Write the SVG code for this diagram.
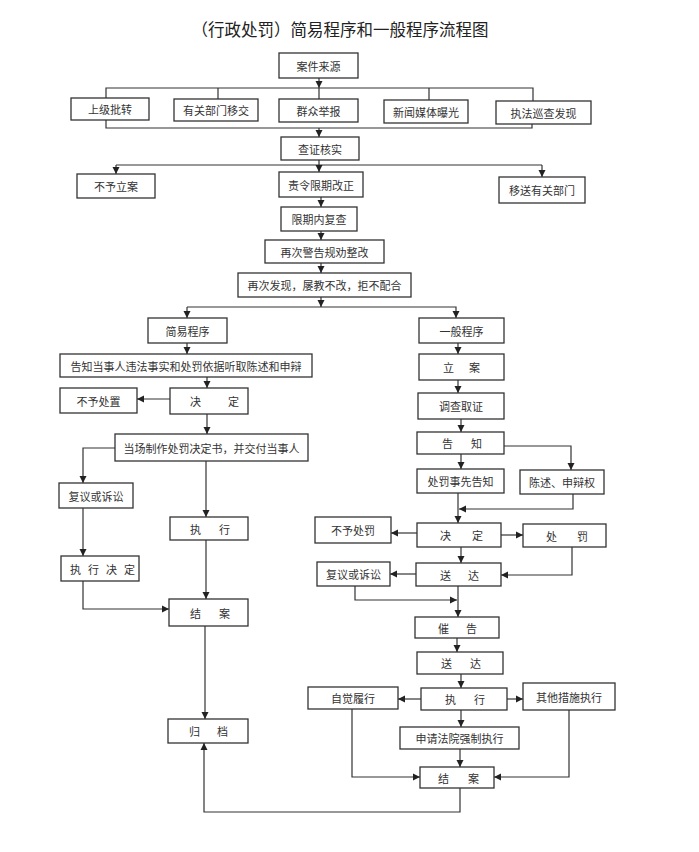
<svg xmlns="http://www.w3.org/2000/svg" width="699" height="852" viewBox="0 0 699 852">
<style>
.b{fill:#fff;stroke:#333;stroke-width:1.3}
.t{font-family:"Noto Sans CJK SC","Noto Sans",sans-serif;font-size:11px;fill:#333;text-anchor:middle;dominant-baseline:central}
.s{font-family:"Noto Sans CJK SC","Noto Sans",sans-serif;font-size:11px;fill:#333;dominant-baseline:central}
.ti{font-family:"Noto Sans CJK SC","Noto Sans",sans-serif;font-size:16.5px;fill:#222;text-anchor:middle}
.c path{fill:none;stroke:#333;stroke-width:1.2}
.a{marker-end:url(#ah)}
</style>
<defs>
<marker id="ah" markerUnits="userSpaceOnUse" markerWidth="8" markerHeight="8" refX="7" refY="4" orient="auto">
<path d="M0,0.5 L7,4 L0,7.5 Z" fill="#222"/>
</marker>
</defs>
<rect width="699" height="852" fill="#fff"/>
<text class="ti" x="340" y="36">（行政处罚）简易程序和一般程序流程图</text>

<g class="c">
<path class="a" d="M319,78 V88"/>
<path d="M106,98 V88 H533 V101 M218,88 V99 M319,88 V99 M429,88 V100"/>
<path d="M106,120 V128 H532 V124"/>
<path class="a" d="M319,128 V137"/>
<path d="M319,160 V165 M116,165 H542"/>
<path class="a" d="M116,165 V174"/>
<path class="a" d="M319,165 V172"/>
<path class="a" d="M542,165 V177"/>
<path class="a" d="M321,197 V207"/>
<path class="a" d="M321,231 V240"/>
<path class="a" d="M321,263 V273"/>
<path class="a" d="M321,297 V307"/>
<path class="a" d="M187,307 V318"/>
<path class="a" d="M187,307 H456 V318"/>
<path class="a" d="M187,343 V354"/>
<path class="a" d="M207,377 V388"/>
<path class="a" d="M170,399 H137"/>
<path class="a" d="M207,414 V434"/>
<path class="a" d="M115,448 H83 V483"/>
<path class="a" d="M206,461 V517"/>
<path class="a" d="M83,508 V556"/>
<path class="a" d="M83,581 V609 H169"/>
<path class="a" d="M206,540 V599"/>
<path class="a" d="M205,626 V719"/>
<path class="a" d="M460,788 V812 H204 V743"/>
<path class="a" d="M458,343 V354"/>
<path class="a" d="M458,380 V393"/>
<path class="a" d="M461,419 V432"/>
<path class="a" d="M504,446 H571 V470"/>
<path class="a" d="M461,454 V469"/>
<path class="a" d="M458,493 V523"/>
<path class="a" d="M573,494 V509 H459"/>
<path class="a" d="M417,533 H391"/>
<path class="a" d="M501,535 H523"/>
<path class="a" d="M461,547 V563"/>
<path class="a" d="M572,547 V575 H501"/>
<path class="a" d="M416,574 H390"/>
<path class="a" d="M355,586 V600 H457"/>
<path class="a" d="M458,586 V617"/>
<path class="a" d="M457,638 V652"/>
<path class="a" d="M461,674 V688"/>
<path class="a" d="M421,699 H398"/>
<path class="a" d="M507,699 H523"/>
<path class="a" d="M461,710 V727"/>
<path class="a" d="M460,749 V767"/>
<path class="a" d="M352,709 V777 H420"/>
<path class="a" d="M569,710 V777 H494"/>
</g>

<g id="n1"><rect class="b" x="279" y="53" width="79" height="25"/><text class="t" x="318.5" y="65.5">案件来源</text></g>
<g id="n2"><rect class="b" x="71" y="98" width="78" height="22"/><text class="t" x="110" y="109">上级批转</text></g>
<g id="n3"><rect class="b" x="174" y="99" width="84" height="22"/><text class="t" x="216" y="110">有关部门移交</text></g>
<g id="n4"><rect class="b" x="279" y="99" width="79" height="23"/><text class="t" x="318.5" y="110.5">群众举报</text></g>
<g id="n5"><rect class="b" x="384" y="100" width="84" height="23"/><text class="t" x="426" y="111.5">新闻媒体曝光</text></g>
<g id="n6"><rect class="b" x="496" y="101" width="95" height="23"/><text class="t" x="543.5" y="113">执法巡查发现</text></g>
<g id="n7"><rect class="b" x="281" y="137" width="78" height="23"/><text class="t" x="320" y="148.5">查证核实</text></g>
<g id="n8"><rect class="b" x="77" y="174" width="78" height="24"/><text class="t" x="116" y="186">不予立案</text></g>
<g id="n9"><rect class="b" x="279" y="172" width="84" height="25"/><text class="t" x="321" y="184.5">责令限期改正</text></g>
<g id="n10"><rect class="b" x="499" y="177" width="86" height="26"/><text class="t" x="542" y="190">移送有关部门</text></g>
<g id="n11"><rect class="b" x="281" y="207" width="76" height="24"/><text class="t" x="319" y="219">限期内复查</text></g>
<g id="n12"><rect class="b" x="265" y="240" width="119" height="23"/><text class="t" x="324.5" y="251.5">再次警告规劝整改</text></g>
<g id="n13"><rect class="b" x="238" y="273" width="173" height="24"/><text class="t" x="324.5" y="285">再次发现，屡教不改，拒不配合</text></g>
<g id="n14"><rect class="b" x="148" y="318" width="79" height="25"/><text class="t" x="187.5" y="330.5">简易程序</text></g>
<g id="n15"><rect class="b" x="60" y="354" width="252" height="23"/><text class="t" x="186" y="365.5">告知当事人违法事实和处罚依据听取陈述和申辩</text></g>
<g id="n16"><rect class="b" x="170" y="388" width="78" height="26"/><text class="s" x="190 228" y="401">决定</text></g>
<g id="n17"><rect class="b" x="60" y="388" width="77" height="25"/><text class="t" x="98.5" y="400.5">不予处置</text></g>
<g id="n18"><rect class="b" x="115" y="434" width="193" height="27"/><text class="t" x="211.5" y="447.5">当场制作处罚决定书，并交付当事人</text></g>
<g id="n19"><rect class="b" x="59" y="483" width="74" height="25"/><text class="t" x="96" y="495.5">复议或诉讼</text></g>
<g id="n20"><rect class="b" x="170" y="517" width="78" height="23"/><text class="s" x="190 219" y="528.5">执行</text></g>
<g id="n21"><rect class="b" x="61" y="556" width="78" height="25"/><text class="s" x="70 88 106 124" y="568.5">执行决定</text></g>
<g id="n22"><rect class="b" x="169" y="599" width="79" height="27"/><text class="s" x="190 219" y="612.5">结案</text></g>
<g id="n23"><rect class="b" x="168" y="719" width="80" height="24"/><text class="s" x="189 217" y="731">归档</text></g>
<g id="n24"><rect class="b" x="419" y="318" width="85" height="25"/><text class="t" x="461.5" y="330.5">一般程序</text></g>
<g id="n25"><rect class="b" x="419" y="354" width="85" height="26"/><text class="s" x="443 469" y="367">立案</text></g>
<g id="n26"><rect class="b" x="418" y="393" width="86" height="26"/><text class="t" x="461" y="406">调查取证</text></g>
<g id="n27"><rect class="b" x="417" y="432" width="87" height="22"/><text class="s" x="442 471" y="443">告知</text></g>
<g id="n28"><rect class="b" x="417" y="469" width="87" height="24"/><text class="t" x="460.5" y="481">处罚事先告知</text></g>
<g id="n29"><rect class="b" x="520" y="470" width="84" height="24"/><text class="t" x="562" y="482">陈述、申辩权</text></g>
<g id="n30"><rect class="b" x="417" y="523" width="84" height="24"/><text class="s" x="440 472" y="535">决定</text></g>
<g id="n31"><rect class="b" x="315" y="517" width="76" height="26"/><text class="t" x="353" y="530">不予处罚</text></g>
<g id="n32"><rect class="b" x="523" y="524" width="83" height="23"/><text class="s" x="546 577" y="535.5">处罚</text></g>
<g id="n33"><rect class="b" x="416" y="563" width="85" height="23"/><text class="s" x="440 468" y="574.5">送达</text></g>
<g id="n34"><rect class="b" x="317" y="562" width="73" height="24"/><text class="t" x="353.5" y="574">复议或诉讼</text></g>
<g id="n35"><rect class="b" x="415" y="617" width="84" height="21"/><text class="s" x="438 466" y="627.5">催告</text></g>
<g id="n36"><rect class="b" x="417" y="652" width="86" height="22"/><text class="s" x="441 470" y="663">送达</text></g>
<g id="n37"><rect class="b" x="421" y="688" width="86" height="22"/><text class="s" x="445 474" y="699">执行</text></g>
<g id="n38"><rect class="b" x="308" y="687" width="90" height="22"/><text class="t" x="353" y="698">自觉履行</text></g>
<g id="n39"><rect class="b" x="523" y="683" width="92" height="27"/><text class="t" x="569" y="696.5">其他措施执行</text></g>
<g id="n40"><rect class="b" x="400" y="727" width="119" height="22"/><text class="t" x="459.5" y="738">申请法院强制执行</text></g>
<g id="n41"><rect class="b" x="420" y="767" width="74" height="21"/><text class="s" x="438 468" y="777.5">结案</text></g>
</svg>
